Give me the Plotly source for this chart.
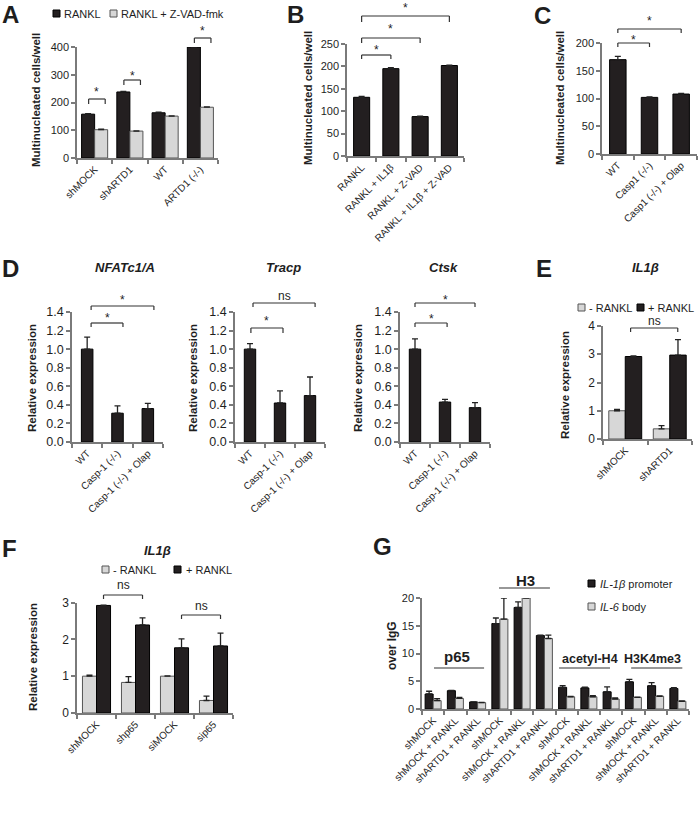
import plotly.graph_objects as go

W, H = 700, 813
BLACK = "#231f20"
GRAY = "#d7d7d7"
AXC = "#7a7a7a"
TXT = "#1e1e1e"
FONT = "Arial, 'Liberation Sans', sans-serif"

# ---------------- data ----------------
a_cats = ["shMOCK", "shARTD1", "WT", "ARTD1 (-/-)"]
a_rankl = [158, 238, 163, 400]
a_rankl_err = [2, 2, 2, 1]
a_zvad = [102, 97, 151, 183]
a_zvad_err = [2, 1, 1, 1]

b_cats = ["RANKL", "RANKL + IL1β", "RANKL + Z-VAD", "RANKL + IL1β + Z-VAD"]
b_vals = [131, 195, 88, 202]
b_err = [2, 2, 1, 1]

c_cats = ["WT", "Casp1 (-/-)", "Casp1 (-/-) + Olap"]
c_vals = [170, 102, 108]
c_err = [6, 1, 1]

d_cats = ["WT", "Casp-1 (-/-)", "Casp-1 (-/-) + Olap"]
d_nfat = [1.0, 0.31, 0.36]
d_nfat_err = [0.13, 0.08, 0.055]
d_tracp = [1.0, 0.42, 0.50]
d_tracp_err = [0.06, 0.13, 0.20]
d_ctsk = [1.0, 0.43, 0.37]
d_ctsk_err = [0.11, 0.03, 0.055]

e_cats = ["shMOCK", "shARTD1"]
e_minus = [1.0, 0.36]
e_minus_err = [0.05, 0.11]
e_plus = [2.92, 2.97]
e_plus_err = [0.02, 0.55]

f_cats = ["shMOCK", "shp65", "siMOCK", "sip65"]
f_minus = [1.0, 0.83, 1.0, 0.34]
f_minus_err = [0.03, 0.16, 0.01, 0.12]
f_plus = [2.92, 2.39, 1.77, 1.82]
f_plus_err = [0.01, 0.19, 0.24, 0.35]

g_conds = ["shMOCK", "shMOCK + RANKL", "shARTD1 + RANKL"]
g_groups = ["p65", "H3", "acetyl-H4", "H3K4me3"]
g_cats = g_conds * 4
g_prom = [2.7, 3.3, 1.27, 15.4, 18.3, 13.25, 3.9, 3.8, 3.1, 4.9, 4.2, 3.7]
g_prom_err = [0.5, 0.05, 0.03, 1.0, 1.0, 0.05, 0.3, 0.15, 0.9, 0.45, 0.55, 0.15]
g_body = [1.5, 1.9, 1.15, 16.2, 20.0, 12.7, 2.2, 2.2, 1.8, 2.1, 2.3, 1.4]
g_body_err = [0.35, 0.2, 0.05, 3.8, 0.05, 0.6, 0.05, 0.2, 0.2, 0.05, 0.05, 0.05]

# ---------------- helpers ----------------
def px(x):
    return x / W


def py(y):
    return 1 - y / H


fig = go.Figure()
shapes = []
annotations = []

# panel specs: id, x-pixels, y-pixels (top, bottom), ymax, dtick, tickformat, cats, ytick size
panels = [
    (1, (77, 218), (47, 158), 400, 100, None, a_cats, 11),
    (2, (347, 464), (44, 156), 250, 50, None, b_cats, 11),
    (3, (602, 697), (43, 154), 200, 50, None, c_cats, 11),
    (4, (72, 163), (312, 442), 1.4, 0.2, ".1f", d_cats, 12.5),
    (5, (235, 325), (312, 442), 1.4, 0.2, ".1f", d_cats, 12.5),
    (6, (400, 490), (312, 442), 1.4, 0.2, ".1f", d_cats, 12.5),
    (7, (603, 692), (326, 439), 4, 1, None, e_cats, 12),
    (8, (77, 233), (602.5, 713), 3, 1, None, f_cats, 12),
    (9, (422, 689), (598, 709), 20, 5, None, g_cats, 11),
]

layout_axes = {}
ncat = {}
for pid, (x0, x1), (yt, yb), ymax, dt, fmt, cats, ysz in panels:
    n = len(cats)
    ncat[pid] = n
    sx = "" if pid == 1 else str(pid)
    yvals = []
    v = 0.0
    while v <= ymax + 1e-9:
        yvals.append(round(v, 6))
        v += dt
    layout_axes["xaxis" + sx] = dict(
        domain=[px(x0), px(x1)], anchor="y" + sx,
        range=[-0.5, n - 0.5], tickmode="array",
        tickvals=list(range(n)), ticktext=cats, tickangle=-45,
        ticks="", showline=True, linecolor=AXC, linewidth=1.5,
        showgrid=False, zeroline=False, automargin=False,
        tickfont=dict(family=FONT, size=10, color=TXT),
        minor=dict(tickmode="array", tickvals=[i - 0.5 for i in range(n + 1)],
                   ticks="outside", ticklen=4, tickcolor=AXC, tickwidth=1.5),
    )
    layout_axes["yaxis" + sx] = dict(
        domain=[py(yb), py(yt)], anchor="x" + sx,
        range=[0, ymax], tickmode="array", tickvals=yvals,
        tickformat=fmt if fmt else "", ticks="outside", ticklen=4,
        tickcolor=AXC, tickwidth=1.5, showline=True, linecolor=AXC,
        linewidth=1.5, showgrid=False, zeroline=False, automargin=False,
        tickfont=dict(family=FONT, size=ysz, color=TXT),
    )


def add_bars(pid, vals, errs, color, width, offset, lcolor):
    sx = "" if pid == 1 else str(pid)
    n = len(vals)
    fig.add_trace(go.Bar(
        x=list(range(n)), y=vals, width=width, offset=offset,
        marker=dict(color=color, line=dict(color=lcolor, width=1)),
        error_y=dict(type="data", array=errs, arrayminus=[0] * n,
                     symmetric=False, color="#222222", thickness=1.3, width=3),
        xaxis="x" + sx, yaxis="y" + sx, showlegend=False, hoverinfo="skip",
    ))


# A
add_bars(1, a_rankl, a_rankl_err, BLACK, 0.37, -0.37, "#000")
add_bars(1, a_zvad, a_zvad_err, GRAY, 0.37, 0.0, "#555")
# B, C
add_bars(2, b_vals, b_err, BLACK, 0.55, -0.275, "#000")
add_bars(3, c_vals, c_err, BLACK, 0.52, -0.26, "#000")
# D
add_bars(4, d_nfat, d_nfat_err, BLACK, 0.38, -0.19, "#000")
add_bars(5, d_tracp, d_tracp_err, BLACK, 0.38, -0.19, "#000")
add_bars(6, d_ctsk, d_ctsk_err, BLACK, 0.38, -0.19, "#000")
# E
add_bars(7, e_minus, e_minus_err, GRAY, 0.37, -0.37, "#555")
add_bars(7, e_plus, e_plus_err, BLACK, 0.37, 0.0, "#000")
# F
add_bars(8, f_minus, f_minus_err, GRAY, 0.36, -0.36, "#555")
add_bars(8, f_plus, f_plus_err, BLACK, 0.36, 0.0, "#000")
# G
add_bars(9, g_prom, g_prom_err, BLACK, 0.36, -0.36, "#000")
add_bars(9, g_body, g_body_err, GRAY, 0.36, 0.0, "#555")


def xdom(pid, v):
    return (v + 0.5) / ncat[pid]


def bracket(pid, a, b, y, text, ty, drop=4):
    sx = "" if pid == 1 else str(pid)
    xr = "x" + sx + " domain"
    xa, xb = xdom(pid, a), xdom(pid, b)
    ln = dict(color="#333333", width=1.2)
    shapes.append(dict(type="line", xref=xr, yref="paper", x0=xa, x1=xb, y0=py(y), y1=py(y), line=ln))
    shapes.append(dict(type="line", xref=xr, yref="paper", x0=xa, x1=xa, y0=py(y), y1=py(y + drop), line=ln))
    shapes.append(dict(type="line", xref=xr, yref="paper", x0=xb, x1=xb, y0=py(y), y1=py(y + drop), line=ln))
    annotations.append(dict(xref=xr, yref="paper", x=(xa + xb) / 2, y=py(ty), text=text,
                            showarrow=False, xanchor="center", yanchor="middle",
                            font=dict(family=FONT, size=12, color=TXT)))


# A brackets
bracket(1, -0.17, 0.30, 99, "*", 92, 5)
bracket(1, 0.83, 1.30, 80, "*", 76, 5)
bracket(1, 2.83, 3.30, 38, "*", 31, 5)
# B
bracket(2, 0, 1, 55, "*", 50, 4)
bracket(2, 0, 2, 38, "*", 29, 5)
bracket(2, 0, 3, 16, "*", 8, 6)
# C
bracket(3, 0, 1, 43, "*", 40, 4)
bracket(3, 0, 2, 29, "*", 21, 4)
# D
bracket(4, 0.13, 1.18, 323, "*", 318, 4)
bracket(4, 0.13, 2.2, 306, "*", 300, 4)
bracket(5, 0.03, 1.1, 328, "*", 321, 5)
bracket(5, 0.1, 2.17, 303, "ns", 296, 4)
bracket(6, 0.0, 1.07, 323, "*", 319, 4)
bracket(6, 0.0, 2.0, 303, "*", 300, 4)
# E
bracket(7, 0.12, 1.18, 328, "ns", 321, 4)
# F
bracket(8, 0.18, 1.18, 595, "ns", 585, 4)
bracket(8, 2.18, 3.18, 615, "ns", 606, 4)

# G group labels
g_lines = [(0.04, 2.29, 668), (2.96, 5.25, 588), (5.66, 7.95, 668), (8.9, 11.2, 668)]
g_label_pos = [(1.07, 656, 15), (4.13, 580, 15), (7.05, 659, 12.5), (9.88, 659, 12.5)]
for name, (a, b, y), (cx, ty, fs) in zip(g_groups, g_lines, g_label_pos):
    shapes.append(dict(type="line", xref="x9 domain", yref="paper", x0=xdom(9, a), x1=xdom(9, b),
                       y0=py(y), y1=py(y), line=dict(color="#333333", width=1.2)))
    annotations.append(dict(xref="x9 domain", yref="paper", x=xdom(9, cx), y=py(ty),
                            text="<b>" + name + "</b>", showarrow=False,
                            xanchor="center", yanchor="middle",
                            font=dict(family=FONT, size=fs, color=TXT)))

# panel letters
for t, x, y in [("A", 10, 15), ("B", 295, 15), ("C", 542, 16), ("D", 10, 268),
                ("E", 544, 268), ("F", 9, 548), ("G", 382, 546)]:
    annotations.append(dict(xref="paper", yref="paper", x=px(x), y=py(y), text="<b>" + t + "</b>",
                            showarrow=False, xanchor="center", yanchor="middle",
                            font=dict(family=FONT, size=24, color=TXT)))

# titles
for t, x, y in [("NFATc1/A", 125, 267), ("Tracp", 283, 267), ("Ctsk", 443, 267),
                ("IL1β", 645, 267), ("IL1β", 157, 550)]:
    annotations.append(dict(xref="paper", yref="paper", x=px(x), y=py(y),
                            text="<b><i>" + t + "</i></b>", showarrow=False,
                            xanchor="center", yanchor="middle",
                            font=dict(family=FONT, size=13, color=TXT)))

# y axis titles
for t, x, y, fs in [("Multinucleated cells/well", 36, 100, 11.5),
                    ("Multinucleated cells/well", 308, 98, 11.5),
                    ("Multinucleated cells/well", 560, 98, 11.5),
                    ("Relative expression", 32, 378, 11.5),
                    ("Relative expression", 193, 378, 11.5),
                    ("Relative expression", 358, 378, 11.5),
                    ("Relative expression", 565, 385, 11.5),
                    ("Relative expression", 33, 657, 11.5),
                    ("over IgG", 392, 646, 12)]:
    annotations.append(dict(xref="paper", yref="paper", x=px(x), y=py(y), text="<b>" + t + "</b>",
                            textangle=-90, showarrow=False, xanchor="center", yanchor="middle",
                            font=dict(family=FONT, size=fs, color=TXT)))


# legends (swatches + text)
def legend_item(x0, y0, color, lcolor, text, tx):
    shapes.append(dict(type="rect", xref="paper", yref="paper", x0=px(x0), x1=px(x0 + 7),
                       y0=py(y0 + 7), y1=py(y0), fillcolor=color,
                       line=dict(color=lcolor, width=1)))
    annotations.append(dict(xref="paper", yref="paper", x=px(tx), y=py(y0 + 3.7), text=text,
                            showarrow=False, xanchor="left", yanchor="middle",
                            font=dict(family=FONT, size=11, color=TXT)))


legend_item(53, 10, BLACK, "#000", "RANKL", 62)
legend_item(110, 10, GRAY, "#555", "RANKL + Z-VAD-fmk", 119)
legend_item(578, 304, GRAY, "#555", "- RANKL", 587)
legend_item(637, 304, BLACK, "#000", "+ RANKL", 646)
legend_item(102, 566, GRAY, "#555", "- RANKL", 111)
legend_item(174, 566, BLACK, "#000", "+ RANKL", 184)
legend_item(588, 580, BLACK, "#000", "<i>IL-1β</i> promoter", 598)
legend_item(588, 603, GRAY, "#555", "<i>IL-6</i> body", 598)

fig.update_layout(
    width=W, height=H, margin=dict(l=0, r=0, t=0, b=0, autoexpand=False),
    paper_bgcolor="white", plot_bgcolor="white",
    barmode="overlay", showlegend=False,
    shapes=shapes, annotations=annotations,
    font=dict(family=FONT, color=TXT),
    **layout_axes,
)

fig.write_html(
    "out.html",
    config={"displayModeBar": False},
    post_script="document.body.style.margin='0px';document.body.style.overflow='hidden';",
)
